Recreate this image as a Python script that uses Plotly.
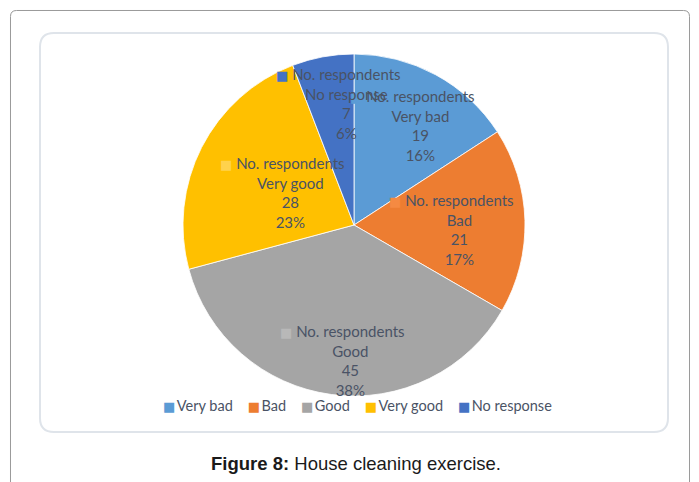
from decimal import Decimal, ROUND_HALF_UP
import math
import plotly.graph_objects as go

# Survey data: house cleaning exercise
categories = ["Very bad", "Bad", "Good", "Very good", "No response"]
respondents = [19, 21, 45, 28, 7]
series_name = "No. respondents"
caption_bold = "Figure 8:"
caption_text = "House cleaning exercise."

# Styling
colors = ["#5B9BD5", "#ED7D31", "#A5A5A5", "#FFC000", "#4472C4"]
key_colors = ["#5B9BD5", "#F58A42", "#B8B8B8", "#FFD24D", "#4472C4"]
label_radius = [0.70, 0.615, 0.79, 0.42, 0.71]   # fraction of pie radius
label_shift = [5, 4, -6, 0, 7]                    # degrees, clockwise
W, H = 699, 482
CX, CY, R = 354, 225, 171                          # pie centre / radius in px
TEXT = "#4A5365"
FONT = "Lato"


def pct(v, total):
    d = (Decimal(v / total) * 100).quantize(Decimal("1"), rounding=ROUND_HALF_UP)
    return f"{d}%"


def key(color, size=14, opacity=1):
    c = color if opacity else "rgba(0,0,0,0)"
    return (f"<span style='font-family:DejaVu Sans;font-size:{size}px;"
            f"color:{c}'>■</span>")


GAP = "<span style='font-size:6px'> </span>"

total = sum(respondents)

fig = go.Figure()
fig.add_trace(go.Pie(
    labels=categories,
    values=respondents,
    sort=False,
    direction="clockwise",
    rotation=0,
    marker=dict(colors=colors, line=dict(color="white", width=0.8)),
    textinfo="none",
    hoverinfo="label+value+percent",
    showlegend=False,
    domain=dict(x=[(CX - R) / W, (CX + R) / W],
                y=[1 - (CY + R) / H, 1 - (CY - R) / H]),
))

# Data labels placed along each slice's mid-angle
annotations = []
cum = 0
for cat, v, col, fr, sh in zip(categories, respondents, key_colors, label_radius, label_shift):
    mid = (cum + v / 2) / total * 360 + sh
    cum += v
    px = CX + R * fr * math.sin(math.radians(mid))
    py = CY - R * fr * math.cos(math.radians(mid))
    txt = (f"{key(col, 13)} {series_name} {key(col, 13, 0)}"
           f"<br>{cat}<br>{v}<br>{pct(v, total)}")
    annotations.append(dict(
        x=px / W, y=1 - py / H, xref="paper", yref="paper",
        text=txt, showarrow=False, align="center",
        xanchor="center", yanchor="middle",
        font=dict(family=FONT, size=15, color=TEXT),
    ))

# Legend row built from the categories
legend_txt = "    ".join(
    f"{key(c, 13)}{GAP}{cat}" for cat, c in zip(categories, colors)
)
annotations.append(dict(
    x=357 / W, y=1 - 405 / H, xref="paper", yref="paper",
    text=legend_txt, showarrow=False, xanchor="center", yanchor="middle",
    font=dict(family=FONT, size=14.5, color=TEXT),
))

# Caption
annotations.append(dict(
    x=356 / W, y=1 - 463 / H, xref="paper", yref="paper",
    text=f"<b>{caption_bold}</b> {caption_text}", showarrow=False,
    xanchor="center", yanchor="middle",
    font=dict(family="Liberation Sans, Arial", size=18.5, color="#1a1a1a"),
))


def rounded_rect(x0, y0, x1, y1, r, open_bottom=False):
    """Rounded rectangle as a list of (command, points) in pixel coords."""
    if open_bottom:
        return [("M", [(x0, y1)]), ("L", [(x0, y0 + r)]), ("Q", [(x0, y0), (x0 + r, y0)]),
                ("L", [(x1 - r, y0)]), ("Q", [(x1, y0), (x1, y0 + r)]), ("L", [(x1, y1)])]
    return [("M", [(x0 + r, y0)]), ("L", [(x1 - r, y0)]), ("Q", [(x1, y0), (x1, y0 + r)]),
            ("L", [(x1, y1 - r)]), ("Q", [(x1, y1), (x1 - r, y1)]), ("L", [(x0 + r, y1)]),
            ("Q", [(x0, y1), (x0, y1 - r)]), ("L", [(x0, y0 + r)]),
            ("Q", [(x0, y0), (x0 + r, y0)]), ("Z", [])]


def to_paper(segments):
    parts = []
    for cmd, pts in segments:
        coords = " ".join(f"{x / W:.5f},{1 - y / H:.5f}" for x, y in pts)
        parts.append(f"{cmd}{coords}")
    return " ".join(parts)


shapes = [
    dict(type="path", xref="paper", yref="paper",
         path=to_paper(rounded_rect(10.5, 10.5, 689.5, 490, 6, open_bottom=True)),
         line=dict(color="#9a9a9a", width=1)),
    dict(type="path", xref="paper", yref="paper",
         path=to_paper(rounded_rect(40, 33, 668, 432, 14)),
         line=dict(color="#dfe4ea", width=2)),
]

fig.update_layout(
    width=W, height=H,
    margin=dict(l=0, r=0, t=0, b=0),
    paper_bgcolor="white", plot_bgcolor="white",
    annotations=annotations,
    shapes=shapes,
    showlegend=False,
)

fig.write_html("out.html")
